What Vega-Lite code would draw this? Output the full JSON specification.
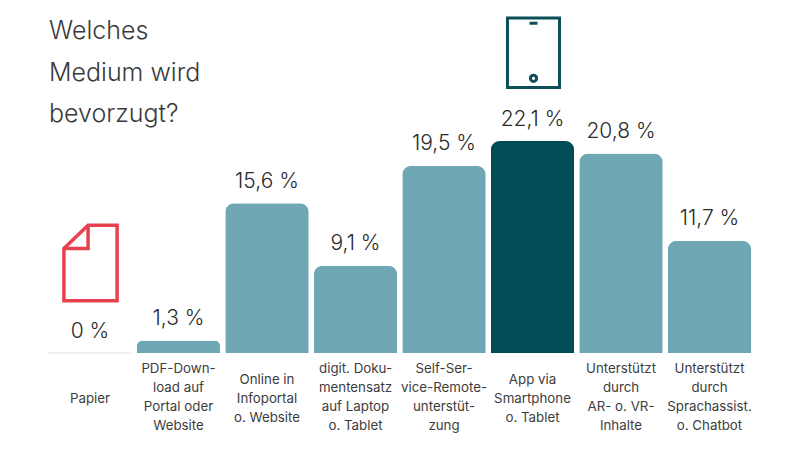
{"$schema":"https://vega.github.io/schema/vega-lite/v6.json","width":800,"height":450,"padding":0,"autosize":{"type":"none"},"background":"#ffffff","view":{"stroke":null},
"title":{"text":["Welches","Medium wird","bevorzugt?"],"anchor":"start","frame":"group","baseline":"top","font":"Inter","fontWeight":300,"fontSize":25,"lineHeight":41.5,"color":"#3a3a3a","dx":49,"dy":127,"offset":0},
"data":{"values":[
{"medium":"Papier","beschriftung":"Papier","zeilen":1,"anteil":0,"label":"0 %","hervorgehoben":"nein"},
{"medium":"PDF","beschriftung":"PDF-Down-\nload auf\nPortal oder\nWebsite","zeilen":4,"anteil":1.3,"label":"1,3 %","hervorgehoben":"nein"},
{"medium":"Online","beschriftung":"Online in\nInfoportal\no. Website","zeilen":3,"anteil":15.6,"label":"15,6 %","hervorgehoben":"nein"},
{"medium":"Dokumentensatz","beschriftung":"digit. Doku-\nmentensatz\nauf Laptop\no. Tablet","zeilen":4,"anteil":9.1,"label":"9,1 %","hervorgehoben":"nein"},
{"medium":"Self-Service","beschriftung":"Self-Ser-\nvice-Remote-\nunterstüt-\nzung","zeilen":4,"anteil":19.5,"label":"19,5 %","hervorgehoben":"nein"},
{"medium":"App","beschriftung":"App via\nSmartphone\no. Tablet","zeilen":3,"anteil":22.1,"label":"22,1 %","hervorgehoben":"ja"},
{"medium":"AR/VR","beschriftung":"Unterstützt\ndurch\nAR- o. VR-\nInhalte","zeilen":4,"anteil":20.8,"label":"20,8 %","hervorgehoben":"nein"},
{"medium":"Chatbot","beschriftung":"Unterstützt\ndurch\nSprachassist.\no. Chatbot","zeilen":4,"anteil":11.7,"label":"11,7 %","hervorgehoben":"nein"}
]},
"encoding":{
"x":{"field":"medium","type":"nominal","sort":null,"axis":null,"scale":{"range":[45.75,753.75],"paddingInner":0.057,"paddingOuter":0.0285}},
"y":{"field":"anteil","type":"quantitative","axis":null,"scale":{"domain":[0,22.1],"range":[353,141],"nice":false,"zero":true}}
},
"layer":[
{"transform":[{"filter":"datum.anteil === 0"}],"mark":{"type":"bar","fill":null,"stroke":"#ececec","strokeWidth":1}},
{"mark":{"type":"bar","cornerRadiusTopLeft":9,"cornerRadiusTopRight":9},"encoding":{"color":{"field":"hervorgehoben","type":"nominal","legend":null,"scale":{"domain":["nein","ja"],"range":["#6fa8b4","#004d56"]}}}},
{"mark":{"type":"text","font":"Inter","fontWeight":300,"fontSize":21,"color":"#2b2b2b","baseline":"middle","yOffset":-21.5},"encoding":{"text":{"field":"label","type":"nominal"}}},
{"transform":[{"filter":"datum.zeilen === 1"}],"mark":{"type":"text","font":"Inter","fontSize":13.3,"color":"#3d3d3d","lineBreak":"\n","lineHeight":19,"baseline":"middle","yOffset":46},"encoding":{"y":{"datum":0},"text":{"field":"beschriftung","type":"nominal"}}},
{"transform":[{"filter":"datum.zeilen === 3"}],"mark":{"type":"text","font":"Inter","fontSize":13.3,"color":"#3d3d3d","lineBreak":"\n","lineHeight":19,"baseline":"middle","yOffset":26.5},"encoding":{"y":{"datum":0},"text":{"field":"beschriftung","type":"nominal"}}},
{"transform":[{"filter":"datum.zeilen === 4"}],"mark":{"type":"text","font":"Inter","fontSize":13.3,"color":"#3d3d3d","lineBreak":"\n","lineHeight":19,"baseline":"middle","yOffset":16},"encoding":{"y":{"datum":0},"text":{"field":"beschriftung","type":"nominal"}}},
{"transform":[{"filter":"datum.medium === 'App'"}],"mark":{"type":"point","filled":false,"stroke":"#0c4f58","strokeWidth":3,"size":4816,"opacity":1,"shape":"M-0.75,-1 L0.75,-1 L0.75,1 L-0.75,1 Z M-0.115,-0.847 L0.115,-0.847 M-0.09,0.738 a0.09,0.09 0 1,0 0.18,0 a0.09,0.09 0 1,0 -0.18,0 Z","xOffset":1,"yOffset":-88.3}},
{"transform":[{"filter":"datum.anteil === 0"}],"mark":{"type":"point","filled":false,"stroke":"#e8424f","strokeWidth":3.5,"size":5700,"opacity":1,"shape":"M-0.064,-1 L0.705,-1 L0.705,1 L-0.705,1 L-0.705,-0.385 Z M-0.064,-1 L-0.064,-0.385 L-0.705,-0.385","xOffset":0.5,"yOffset":-90}}
]}
